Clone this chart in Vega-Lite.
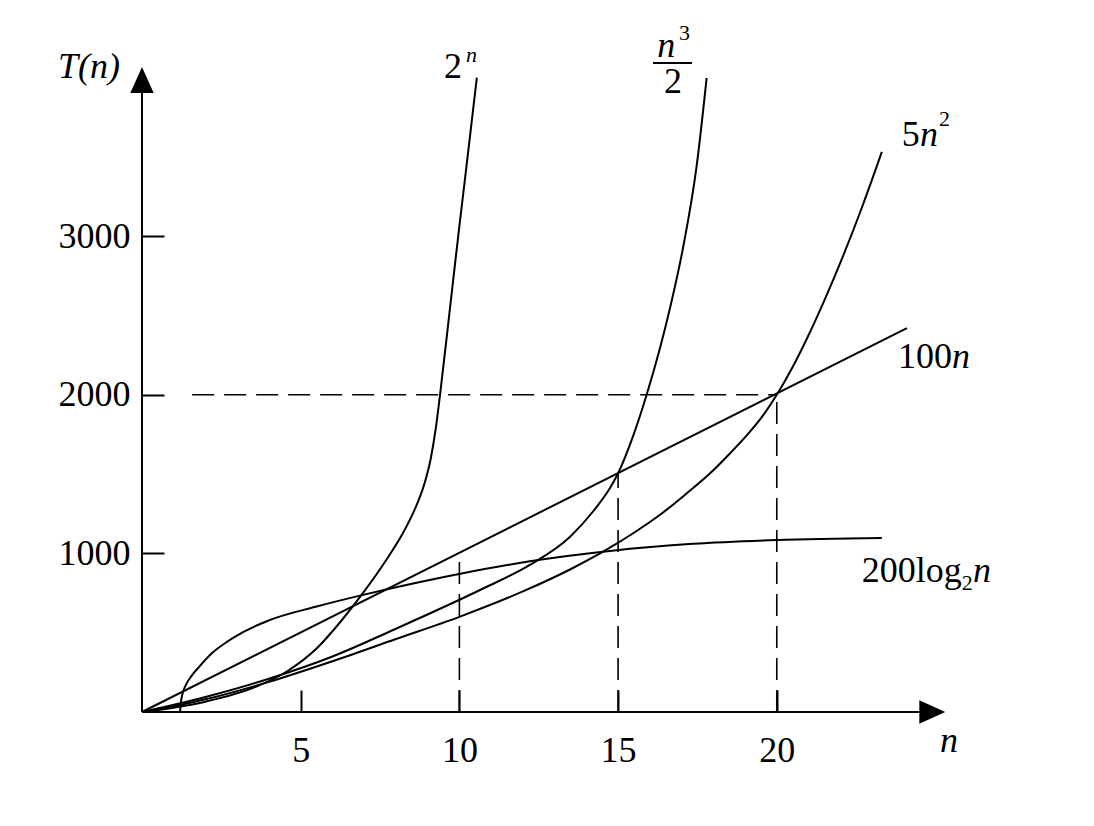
{
  "$schema": "https://vega.github.io/schema/vega-lite/v6.json",
  "width": 803,
  "height": 644,
  "autosize": "none",
  "padding": {"left": 142, "top": 68, "right": 149, "bottom": 114},
  "background": "white",
  "config": {"view": {"stroke": null}, "font": "Liberation Serif"},
  "datasets": {
    "curves": [
      {"f": "2^n", "n": 0, "t": 0},
      {"f": "2^n", "n": 2, "t": 65},
      {"f": "2^n", "n": 3.6, "t": 160},
      {"f": "2^n", "n": 4.6, "t": 260},
      {"f": "2^n", "n": 5.5, "t": 400},
      {"f": "2^n", "n": 6.3, "t": 580},
      {"f": "2^n", "n": 7.0, "t": 760},
      {"f": "2^n", "n": 7.7, "t": 960},
      {"f": "2^n", "n": 8.2, "t": 1120},
      {"f": "2^n", "n": 8.6, "t": 1280},
      {"f": "2^n", "n": 8.9, "t": 1440},
      {"f": "2^n", "n": 9.1, "t": 1600},
      {"f": "2^n", "n": 9.25, "t": 1780},
      {"f": "2^n", "n": 9.39, "t": 2000},
      {"f": "2^n", "n": 9.7, "t": 2540},
      {"f": "2^n", "n": 9.98, "t": 3030},
      {"f": "2^n", "n": 10.27, "t": 3520},
      {"f": "2^n", "n": 10.55, "t": 4000},
      {"f": "n^3/2", "n": 0, "t": 0},
      {"f": "n^3/2", "n": 2, "t": 95},
      {"f": "n^3/2", "n": 4, "t": 210},
      {"f": "n^3/2", "n": 6, "t": 350},
      {"f": "n^3/2", "n": 8, "t": 525},
      {"f": "n^3/2", "n": 10.65, "t": 769},
      {"f": "n^3/2", "n": 12.22, "t": 927},
      {"f": "n^3/2", "n": 13.48, "t": 1103},
      {"f": "n^3/2", "n": 14.21, "t": 1264},
      {"f": "n^3/2", "n": 14.74, "t": 1410},
      {"f": "n^3/2", "n": 15.0, "t": 1505},
      {"f": "n^3/2", "n": 15.5, "t": 1755},
      {"f": "n^3/2", "n": 15.9, "t": 2000},
      {"f": "n^3/2", "n": 16.64, "t": 2550},
      {"f": "n^3/2", "n": 17.04, "t": 2920},
      {"f": "n^3/2", "n": 17.48, "t": 3450},
      {"f": "n^3/2", "n": 17.79, "t": 3997},
      {"f": "5n^2", "n": 0, "t": 0},
      {"f": "5n^2", "n": 2, "t": 80},
      {"f": "5n^2", "n": 4, "t": 190},
      {"f": "5n^2", "n": 6, "t": 320},
      {"f": "5n^2", "n": 8, "t": 460},
      {"f": "5n^2", "n": 10, "t": 600},
      {"f": "5n^2", "n": 12, "t": 760},
      {"f": "5n^2", "n": 13.5, "t": 900},
      {"f": "5n^2", "n": 14.65, "t": 1025},
      {"f": "5n^2", "n": 15.5, "t": 1130},
      {"f": "5n^2", "n": 16.3, "t": 1240},
      {"f": "5n^2", "n": 17.2, "t": 1385},
      {"f": "5n^2", "n": 17.9, "t": 1505},
      {"f": "5n^2", "n": 18.5, "t": 1625},
      {"f": "5n^2", "n": 19.06, "t": 1745},
      {"f": "5n^2", "n": 19.55, "t": 1865},
      {"f": "5n^2", "n": 20.0, "t": 2000},
      {"f": "5n^2", "n": 20.5, "t": 2175},
      {"f": "5n^2", "n": 21.0, "t": 2375},
      {"f": "5n^2", "n": 21.5, "t": 2595},
      {"f": "5n^2", "n": 22.1, "t": 2880},
      {"f": "5n^2", "n": 22.7, "t": 3190},
      {"f": "5n^2", "n": 23.31, "t": 3531},
      {"f": "100n", "n": 0, "t": 0},
      {"f": "100n", "n": 24.1, "t": 2420},
      {"f": "200log2n", "n": 1.2, "t": 0},
      {"f": "200log2n", "n": 1.22, "t": 50},
      {"f": "200log2n", "n": 1.27, "t": 110},
      {"f": "200log2n", "n": 1.38, "t": 170},
      {"f": "200log2n", "n": 1.55, "t": 225},
      {"f": "200log2n", "n": 1.8, "t": 285},
      {"f": "200log2n", "n": 2.2, "t": 370},
      {"f": "200log2n", "n": 2.7, "t": 445},
      {"f": "200log2n", "n": 3.2, "t": 505},
      {"f": "200log2n", "n": 4.03, "t": 580},
      {"f": "200log2n", "n": 5.5, "t": 665},
      {"f": "200log2n", "n": 7.0, "t": 740},
      {"f": "200log2n", "n": 8.54, "t": 810},
      {"f": "200log2n", "n": 10.11, "t": 875},
      {"f": "200log2n", "n": 12.22, "t": 950},
      {"f": "200log2n", "n": 14.74, "t": 1015},
      {"f": "200log2n", "n": 17.36, "t": 1060},
      {"f": "200log2n", "n": 20.0, "t": 1084},
      {"f": "200log2n", "n": 23.31, "t": 1097}
    ],
    "dashed": [
      {"n": 1.58, "t": 2000, "n2": 20, "t2": 2000},
      {"n": 10, "t": 0, "n2": 10, "t2": 1000},
      {"n": 15, "t": 0, "n2": 15, "t2": 1500},
      {"n": 20, "t": 0, "n2": 20, "t2": 2000}
    ],
    "axislines": [
      {"n": 0, "t": 0, "n2": 0, "t2": 3930},
      {"n": 0, "t": 0, "n2": 24.6, "t2": 0},
      {"n": 16.1, "t": 4092, "n2": 17.33, "t2": 4092}
    ],
    "arrowY": [{"n": 0, "t": 3985}],
    "arrowX": [{"n": 24.9, "t": 0}],
    "textNormal": [
      {"n": 23.82, "t": 2169, "label": "100"},
      {"n": 22.68, "t": 820, "label": "200log"},
      {"n": 23.94, "t": 3569, "label": "5"}
    ],
    "textCenter": [
      {"n": 9.8, "t": 3997, "label": "2"},
      {"n": 16.73, "t": 3903, "label": "2"}
    ],
    "textItalic": [
      {"n": 25.52, "t": 2169, "label": "n"},
      {"n": 26.18, "t": 820, "label": "n"},
      {"n": 24.51, "t": 3569, "label": "n"},
      {"n": -2.65, "t": 3997, "label": "T(n)"},
      {"n": 25.14, "t": -252, "label": "n"},
      {"n": 16.23, "t": 4130, "label": "n"}
    ],
    "textSmall": [
      {"n": 16.92, "t": 4237, "label": "3"},
      {"n": 25.11, "t": 3695, "label": "2"},
      {"n": 25.83, "t": 769, "label": "2"}
    ],
    "textSmallItalic": [
      {"n": 10.21, "t": 4098, "label": "n"}
    ]
  },
  "encoding": {
    "x": {
      "field": "n",
      "type": "quantitative",
      "scale": {"domain": [0, 25.3], "nice": false, "zero": false},
      "axis": {
        "values": [5, 10, 15, 20],
        "domain": false,
        "grid": false,
        "title": null,
        "tickSize": -22,
        "tickWidth": 2,
        "tickColor": "black",
        "labelFont": "Liberation Serif",
        "labelFontSize": 36,
        "labelColor": "black",
        "labelPadding": 43,
        "labelFlush": false
      }
    },
    "y": {
      "field": "t",
      "type": "quantitative",
      "scale": {"domain": [0, 4060], "nice": false, "zero": false},
      "axis": {
        "values": [1000, 2000, 3000],
        "format": "d",
        "domain": false,
        "grid": false,
        "title": null,
        "tickSize": -22,
        "tickWidth": 2,
        "tickColor": "black",
        "labelFont": "Liberation Serif",
        "labelFontSize": 36,
        "labelColor": "black",
        "labelPadding": 34,
        "labelFlush": false
      }
    }
  },
  "layer": [
    {
      "data": {"name": "dashed"},
      "mark": {"type": "rule", "color": "black", "strokeWidth": 1.6, "strokeDash": [22, 10]},
      "encoding": {"x2": {"field": "n2"}, "y2": {"field": "t2"}}
    },
    {
      "data": {"name": "curves"},
      "mark": {"type": "line", "color": "black", "strokeWidth": 2, "interpolate": "monotone"},
      "encoding": {"detail": {"field": "f"}}
    },
    {
      "data": {"name": "axislines"},
      "mark": {"type": "rule", "color": "black", "strokeWidth": 2},
      "encoding": {"x2": {"field": "n2"}, "y2": {"field": "t2"}}
    },
    {
      "data": {"name": "arrowY"},
      "mark": {"type": "point", "shape": "M0,-1L-0.9,1L0.9,1Z", "size": 676, "filled": true, "color": "black", "opacity": 1}
    },
    {
      "data": {"name": "arrowX"},
      "mark": {"type": "point", "shape": "M1,0L-1,-0.9L-1,0.9Z", "size": 676, "filled": true, "color": "black", "opacity": 1}
    },
    {
      "data": {"name": "textNormal"},
      "mark": {"type": "text", "font": "Liberation Serif", "fontSize": 36, "align": "left", "baseline": "alphabetic", "color": "black"},
      "encoding": {"text": {"field": "label"}}
    },
    {
      "data": {"name": "textCenter"},
      "mark": {"type": "text", "font": "Liberation Serif", "fontSize": 36, "align": "center", "baseline": "alphabetic", "color": "black"},
      "encoding": {"text": {"field": "label"}}
    },
    {
      "data": {"name": "textItalic"},
      "mark": {"type": "text", "font": "Liberation Serif", "fontSize": 36, "fontStyle": "italic", "align": "left", "baseline": "alphabetic", "color": "black"},
      "encoding": {"text": {"field": "label"}}
    },
    {
      "data": {"name": "textSmall"},
      "mark": {"type": "text", "font": "Liberation Serif", "fontSize": 22, "align": "left", "baseline": "alphabetic", "color": "black"},
      "encoding": {"text": {"field": "label"}}
    },
    {
      "data": {"name": "textSmallItalic"},
      "mark": {"type": "text", "font": "Liberation Serif", "fontSize": 22, "fontStyle": "italic", "align": "left", "baseline": "alphabetic", "color": "black"},
      "encoding": {"text": {"field": "label"}}
    }
  ]
}
